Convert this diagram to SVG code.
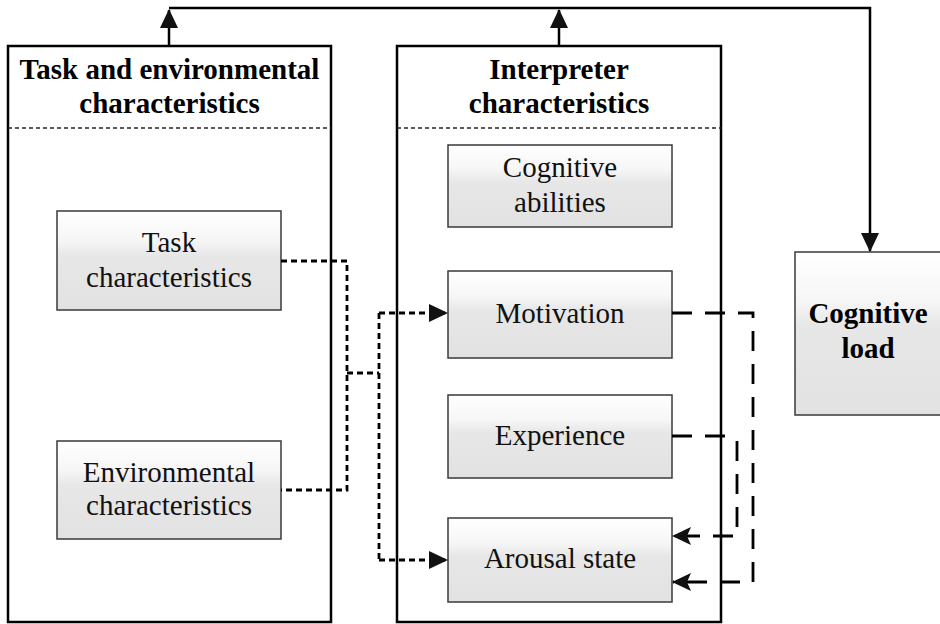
<svg xmlns="http://www.w3.org/2000/svg" width="940" height="624" viewBox="0 0 940 624">
<style>
.big{fill:#fff;stroke:#000;stroke-width:2.5}
.sep{stroke:#222;stroke-width:1.3;stroke-dasharray:4 3;fill:none}
.inner{fill:url(#g);stroke:#3a3a3a;stroke-width:1.5}
.t{font-family:"Liberation Serif","Times New Roman",serif;font-size:29px;fill:#111;text-anchor:middle}
.b{font-weight:bold;fill:#000}
.solid{fill:none;stroke:#000;stroke-width:2.5}
.dot{fill:none;stroke:#000;stroke-width:2.8;stroke-dasharray:6 4}
.dash{fill:none;stroke:#000;stroke-width:2.8;stroke-dasharray:20 13}
</style>
<defs>
<linearGradient id="g" x1="0" y1="0" x2="0" y2="1">
<stop offset="0" stop-color="#ffffff"/>
<stop offset="0.3" stop-color="#f6f6f6"/>
<stop offset="0.45" stop-color="#e7e7e7"/>
<stop offset="1" stop-color="#e2e2e2"/>
</linearGradient>
<marker id="a" markerUnits="userSpaceOnUse" markerWidth="20" markerHeight="20" refX="18" refY="9" orient="auto">
<path d="M0,0 L19,9 L0,18 z" fill="#111"/>
</marker>
<marker id="n" markerUnits="userSpaceOnUse" markerWidth="20" markerHeight="20" refX="18" refY="9" orient="auto">
<path d="M0,0 L19,9 L0,18 L4,9 z" fill="#111"/>
</marker>
</defs>

<g id="task-env">
<rect class="big" x="8" y="46" width="323" height="576"/>
<line class="sep" x1="8" y1="128" x2="331" y2="128"/>
<text class="t b" x="169.5" y="79">Task and environmental</text>
<text class="t b" x="169.5" y="113">characteristics</text>
</g>

<g id="interpreter">
<rect class="big" x="397" y="46" width="324" height="576"/>
<line class="sep" x1="397" y1="128" x2="721" y2="128"/>
<text class="t b" x="559" y="79">Interpreter</text>
<text class="t b" x="559" y="113">characteristics</text>
</g>

<g id="task">
<rect class="inner" x="57" y="211" width="224" height="99"/>
<text class="t" x="169" y="252">Task</text>
<text class="t" x="169" y="287">characteristics</text>
</g>

<g id="environmental">
<rect class="inner" x="57" y="441" width="224" height="98"/>
<text class="t" x="169" y="482">Environmental</text>
<text class="t" x="169" y="515">characteristics</text>
</g>

<g id="cognitive-abilities">
<rect class="inner" x="448" y="145" width="224" height="82"/>
<text class="t" x="560" y="177">Cognitive</text>
<text class="t" x="560" y="212">abilities</text>
</g>

<g id="motivation">
<rect class="inner" x="448" y="271" width="224" height="87"/>
<text class="t" x="560" y="323">Motivation</text>
</g>

<g id="experience">
<rect class="inner" x="448" y="395" width="224" height="83"/>
<text class="t" x="560" y="445">Experience</text>
</g>

<g id="arousal">
<rect class="inner" x="448" y="518" width="224" height="84"/>
<text class="t" x="560" y="568">Arousal state</text>
</g>

<g id="cognitive-load">
<rect class="inner" x="795" y="252" width="150" height="163"/>
<text class="t b" x="868" y="323">Cognitive</text>
<text class="t b" x="868" y="358">load</text>
</g>

<g id="connectors">
<path class="solid" d="M169,46 V10" marker-end="url(#a)"/>
<path class="solid" d="M559,46 V10" marker-end="url(#a)"/>
<path class="solid" d="M169,8 H870 V251" marker-end="url(#a)"/>
<path class="dot" d="M281,261 H347 V490 H281"/>
<path class="dot" d="M347,373 H379"/>
<path class="dot" d="M379,313 V560"/>
<path class="dot" d="M379,313 H447" marker-end="url(#a)"/>
<path class="dot" d="M379,560 H447" marker-end="url(#a)"/>
<path class="dash" d="M672,313 H753 V582 H673" marker-end="url(#n)"/>
<path class="dash" d="M672,436 H728"/>
<path class="dash" d="M737,441 V536 H673" marker-end="url(#n)"/>
</g>
</svg>
